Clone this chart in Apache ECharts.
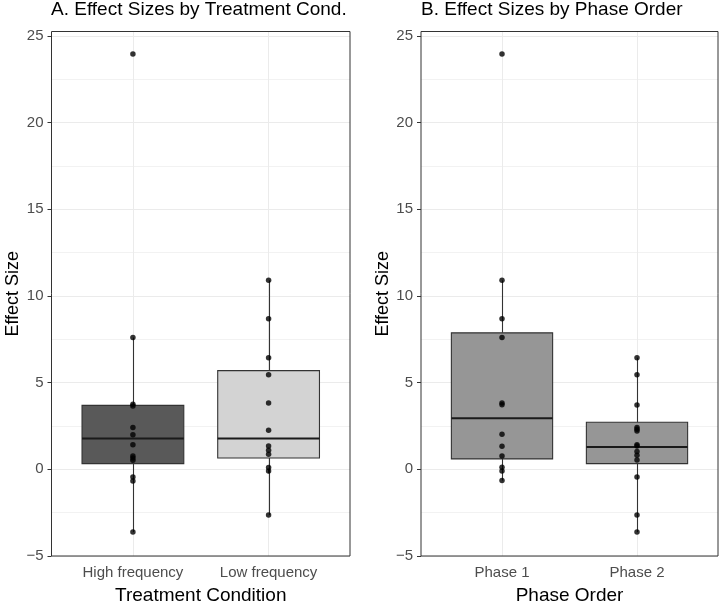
<!DOCTYPE html>
<html>
<head>
<meta charset="utf-8">
<script src="https://cdn.jsdelivr.net/npm/echarts@6/dist/echarts.min.js"></script>
<style>html,body{margin:0;padding:0;background:#fff;}#c{width:722px;height:605px;}</style>
</head>
<body>
<div id="c"></div>
<script>
// ---- data ----
const panelTitles = ['A. Effect Sizes by Treatment Cond.', 'B. Effect Sizes by Phase Order'];
const xTitles = ['Treatment Condition', 'Phase Order'];
const yTitle = 'Effect Size';
const treatCats = ['High frequency', 'Low frequency'];
const phaseCats = ['Phase 1', 'Phase 2'];
const yTicks = [-5, 0, 5, 10, 15, 20, 25];

// box stats: [whiskerLow, Q1, median, Q3, whiskerHigh]
const boxHigh = [-3.62, 0.33, 1.77, 3.69, 7.6];
const boxLow = [-2.64, 0.65, 1.77, 5.69, 10.9];
const boxPhase1 = [-0.65, 0.6, 2.94, 7.87, 10.9];
const boxPhase2 = [-3.62, 0.33, 1.29, 2.71, 6.44];

// individual effect sizes
const ptsHigh = [23.95, 7.6, 3.75, 3.65, 2.41, 2.0, 1.42, 0.77, 0.65, 0.52, -0.44, -0.67, -3.62];
const ptsLow = [10.9, 8.69, 6.44, 5.46, 3.83, 2.25, 1.35, 1.10, 0.87, 0.10, -0.10, -2.64];
const ptsPhase1 = [23.95, 10.9, 8.69, 7.6, 3.83, 3.73, 2.02, 1.33, 0.77, 0.12, -0.10, -0.65];
const ptsPhase2 = [6.44, 5.46, 3.71, 2.41, 2.31, 2.21, 1.42, 1.35, 1.02, 0.81, 0.54, -0.44, -2.64, -3.62];

// ---- styles ----
const FONT = 'Liberation Sans, Arial, sans-serif';
const fills = [['#595959', '#d3d3d3'], ['#969696', '#969696']];
const grids = [
  { left: 51.5, right: 372, top: 31.5, bottom: 49 },
  { left: 421, right: 4, top: 31.5, bottom: 49 }
];

function boxRender(params, api) {
  const x = api.value(0);
  const lo = api.value(1), q1 = api.value(2), med = api.value(3), q3 = api.value(4), hi = api.value(5);
  const hw = 0.375;
  const tl = api.coord([x - hw, q3]);
  const br = api.coord([x + hw, q1]);
  const pHi = api.coord([x, hi]), pQ3 = api.coord([x, q3]);
  const pQ1 = api.coord([x, q1]), pLo = api.coord([x, lo]);
  const m1 = api.coord([x - hw, med]), m2 = api.coord([x + hw, med]);
  const cx = Math.round(pHi[0]) + 0.5;
  return {
    type: 'group',
    children: [
      { type: 'line', shape: { x1: cx, y1: pHi[1], x2: cx, y2: pQ3[1] }, style: { stroke: '#333333', lineWidth: 1.1 } },
      { type: 'line', shape: { x1: cx, y1: pQ1[1], x2: cx, y2: pLo[1] }, style: { stroke: '#333333', lineWidth: 1.1 } },
      { type: 'rect', shape: { x: tl[0], y: tl[1], width: br[0] - tl[0], height: br[1] - tl[1] },
        style: { fill: api.visual('color'), stroke: '#333333', lineWidth: 1.1 } },
      { type: 'line', shape: { x1: m1[0], y1: m1[1], x2: m2[0], y2: m2[1] }, style: { stroke: '#1a1a1a', lineWidth: 2 } }
    ]
  };
}

function makeAxes(i, cats) {
  const xAxis = {
    type: 'value', gridIndex: i, min: 0.4, max: 2.6,
    axisLine: { show: false },
    axisTick: { show: true, customValues: [1, 2], length: 4, lineStyle: { color: '#333333' } },
    axisLabel: { customValues: [1, 2], formatter: v => cats[Math.round(v) - 1], color: '#4d4d4d',
      fontFamily: FONT, fontSize: 15, margin: 9 },
    splitLine: { show: true, lineStyle: { color: '#ebebeb', width: 1 } },
    name: xTitles[i], nameLocation: 'middle', nameGap: 30,
    nameTextStyle: { color: '#000', fontFamily: FONT, fontSize: 19 }
  };
  const yAxis = {
    type: 'value', gridIndex: i, min: -5, max: 25.25, interval: 5,
    axisLine: { show: false },
    axisTick: { show: true, customValues: yTicks, length: 4, lineStyle: { color: '#333333' } },
    axisLabel: { customValues: yTicks, color: '#4d4d4d', fontFamily: FONT, fontSize: 15, margin: 8,
      formatter: v => (v < 0 ? '\u2212' + Math.abs(v) : String(v)) },
    splitLine: { show: true, lineStyle: { color: '#ebebeb', width: 1 } },
    minorTick: { show: false, splitNumber: 2 },
    minorSplitLine: { show: true, lineStyle: { color: '#f2f2f2', width: 1 } },
    name: yTitle, nameLocation: 'middle', nameGap: 27, nameRotate: 90,
    nameTextStyle: { color: '#000', fontFamily: FONT, fontSize: 18 }
  };
  return { xAxis, yAxis };
}

const a0 = makeAxes(0, treatCats);
const a1 = makeAxes(1, phaseCats);

const boxSets = [[boxHigh, boxLow], [boxPhase1, boxPhase2]];
const ptSets = [[ptsHigh, ptsLow], [ptsPhase1, ptsPhase2]];

const series = [];
for (let g = 0; g < 2; g++) {
  series.push({
    type: 'custom', xAxisIndex: g, yAxisIndex: g, z: 3,
    renderItem: boxRender,
    encode: { x: 0, y: [1, 2, 3, 4, 5] },
    data: boxSets[g].map((b, k) => ({ value: [k + 1].concat(b), itemStyle: { color: fills[g][k] } })),
    silent: true
  });
  const pts = [];
  ptSets[g].forEach((arr, k) => arr.forEach(v => pts.push([k + 1, v])));
  series.push({
    type: 'scatter', xAxisIndex: g, yAxisIndex: g, z: 5,
    symbol: 'circle', symbolSize: 5.5,
    itemStyle: { color: '#000000' },
    data: pts, silent: true
  });
}

const chart = echarts.init(document.getElementById('c'), null, { renderer: 'canvas' });
chart.setOption({
  animation: false,
  backgroundColor: '#ffffff',
  title: [
    { text: panelTitles[0], left: 51, top: 0, padding: 0,
      textStyle: { fontFamily: FONT, fontSize: 19, fontWeight: 'normal', color: '#000', lineHeight: 19 } },
    { text: panelTitles[1], left: 421, top: 0, padding: 0,
      textStyle: { fontFamily: FONT, fontSize: 19, fontWeight: 'normal', color: '#000', lineHeight: 19 } }
  ],
  grid: grids.map(g => Object.assign({ show: true, borderColor: '#333333', borderWidth: 1,
    containLabel: false, outerBoundsMode: 'none', z: 10 }, g)),
  xAxis: [a0.xAxis, a1.xAxis],
  yAxis: [a0.yAxis, a1.yAxis],
  series: series
});
</script>
</body>
</html>
